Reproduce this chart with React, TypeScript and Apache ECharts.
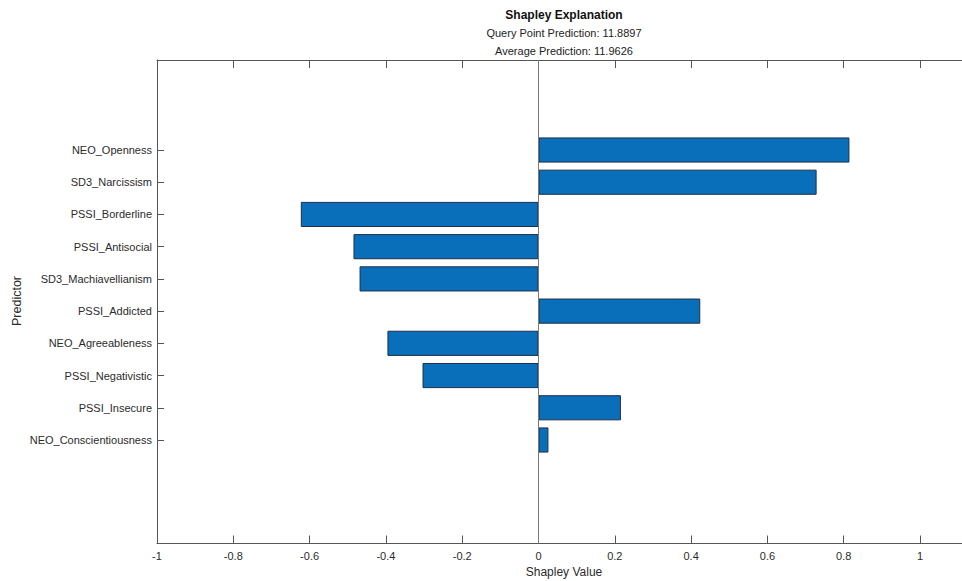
import React, { useEffect, useRef } from "react";
import * as echarts from "echarts";

const predictors = [
  "NEO_Openness",
  "SD3_Narcissism",
  "PSSI_Borderline",
  "PSSI_Antisocial",
  "SD3_Machiavellianism",
  "PSSI_Addicted",
  "NEO_Agreeableness",
  "PSSI_Negativistic",
  "PSSI_Insecure",
  "NEO_Conscientiousness",
];
const shapleyValues = [0.815, 0.729, -0.623, -0.485, -0.469, 0.424, -0.396, -0.304, 0.216, 0.026];

const titleText = "Shapley Explanation";
const queryText = "Query Point Prediction: 11.8897";
const averageText = "Average Prediction: 11.9626";
const xAxisTitle = "Shapley Value";
const yAxisTitle = "Predictor";

const X_MIN = -1;
const X_MAX = 1.1625;
const X_STEP = 0.2;

const FONT = "'Liberation Sans', Arial, Helvetica, sans-serif";
const AXIS_COLOR = "#555";
const TEXT_COLOR = "#2b2b2b";

export default function App() {
  const ref = useRef<HTMLDivElement>(null);

  useEffect(() => {
    if (!ref.current) return;
    const chart = echarts.init(ref.current, undefined, { renderer: "svg" });
    const gridLeft = 157;
    const gridWidth = 825;
    const option: any = {
      animation: false,
      backgroundColor: "#ffffff",
      textStyle: { fontFamily: FONT },
      grid: [
        { left: gridLeft, width: gridWidth, top: 60, height: 483.5, containLabel: false },
        { left: gridLeft, width: gridWidth, top: 133.9, height: 322.2, containLabel: false },
      ],
      xAxis: [
        {
          type: "value",
          gridIndex: 0,
          position: "bottom",
          min: X_MIN,
          max: X_MAX,
          interval: X_STEP,
          axisLine: { show: true, onZero: false, lineStyle: { color: AXIS_COLOR, width: 1 } },
          axisTick: { show: true, inside: true, length: 8, lineStyle: { color: AXIS_COLOR } },
          axisLabel: {
            show: true,
            margin: 7,
            fontSize: 11,
            color: TEXT_COLOR,
            fontFamily: FONT,
            showMaxLabel: false,
            formatter: (v: number) => (Math.abs(v) < 1e-9 ? "0" : String(Math.round(v * 10) / 10)),
          },
          splitLine: { show: false },
        },
        {
          type: "value",
          gridIndex: 0,
          position: "top",
          min: X_MIN,
          max: X_MAX,
          interval: X_STEP,
          axisLine: { show: true, onZero: false, lineStyle: { color: AXIS_COLOR, width: 1 } },
          axisTick: { show: true, inside: true, length: 8, lineStyle: { color: AXIS_COLOR } },
          axisLabel: { show: false },
          splitLine: { show: false },
        },
        {
          type: "value",
          gridIndex: 1,
          min: X_MIN,
          max: X_MAX,
          interval: X_STEP,
          show: false,
        },
      ],
      yAxis: [
        {
          type: "value",
          gridIndex: 0,
          position: "left",
          min: 0,
          max: 1,
          axisLine: { show: true, onZero: false, lineStyle: { color: AXIS_COLOR, width: 1 } },
          axisTick: { show: false },
          axisLabel: { show: false },
          splitLine: { show: false },
        },
        {
          type: "category",
          gridIndex: 1,
          position: "left",
          inverse: true,
          data: predictors,
          axisLine: { show: false, onZero: false },
          axisTick: { show: true, inside: true, length: 7, alignWithLabel: true, lineStyle: { color: AXIS_COLOR } },
          axisLabel: { show: true, margin: 5, fontSize: 11, color: TEXT_COLOR, fontFamily: FONT },
          splitLine: { show: false },
        },
      ],
      series: [
        {
          type: "scatter",
          xAxisIndex: 0,
          yAxisIndex: 0,
          data: [],
          silent: true,
          markLine: {
            silent: true,
            symbol: ["none", "none"],
            label: { show: false },
            lineStyle: { color: "#7a7a7a", width: 1, type: "solid" },
            data: [{ xAxis: 0 }],
          },
        },
        {
          type: "bar",
          xAxisIndex: 2,
          yAxisIndex: 1,
          data: shapleyValues,
          barWidth: "78%",
          itemStyle: { color: "#0A6FBA", borderColor: "#1c2f45", borderWidth: 1 },
          silent: true,
        },
      ],
      graphic: [
        {
          type: "text",
          x: 564,
          y: 15.2,
          style: { text: titleText, font: `bold 12px ${FONT}`, fill: "#111", align: "center", verticalAlign: "middle" },
        },
        {
          type: "text",
          x: 564,
          y: 32.9,
          style: { text: queryText, font: `11px ${FONT}`, fill: "#222", align: "center", verticalAlign: "middle" },
        },
        {
          type: "text",
          x: 564,
          y: 51.2,
          style: { text: averageText, font: `11px ${FONT}`, fill: "#222", align: "center", verticalAlign: "middle" },
        },
        {
          type: "text",
          x: 564,
          y: 572,
          style: { text: xAxisTitle, font: `12px ${FONT}`, fill: TEXT_COLOR, align: "center", verticalAlign: "middle" },
        },
        {
          type: "text",
          x: 17,
          y: 301,
          rotation: Math.PI / 2,
          style: { text: yAxisTitle, font: `12.5px ${FONT}`, fill: TEXT_COLOR, align: "center", verticalAlign: "middle" },
        },
      ],
    };
    chart.setOption(option);
    return () => chart.dispose();
  }, []);

  return (
    <div
      style={{ position: "fixed", left: 0, top: 0, width: 962, height: 581, overflow: "hidden", background: "#fff" }}
    >
      <div ref={ref} style={{ position: "absolute", left: 0, top: 0, width: 1000, height: 581 }} />
    </div>
  );
}
